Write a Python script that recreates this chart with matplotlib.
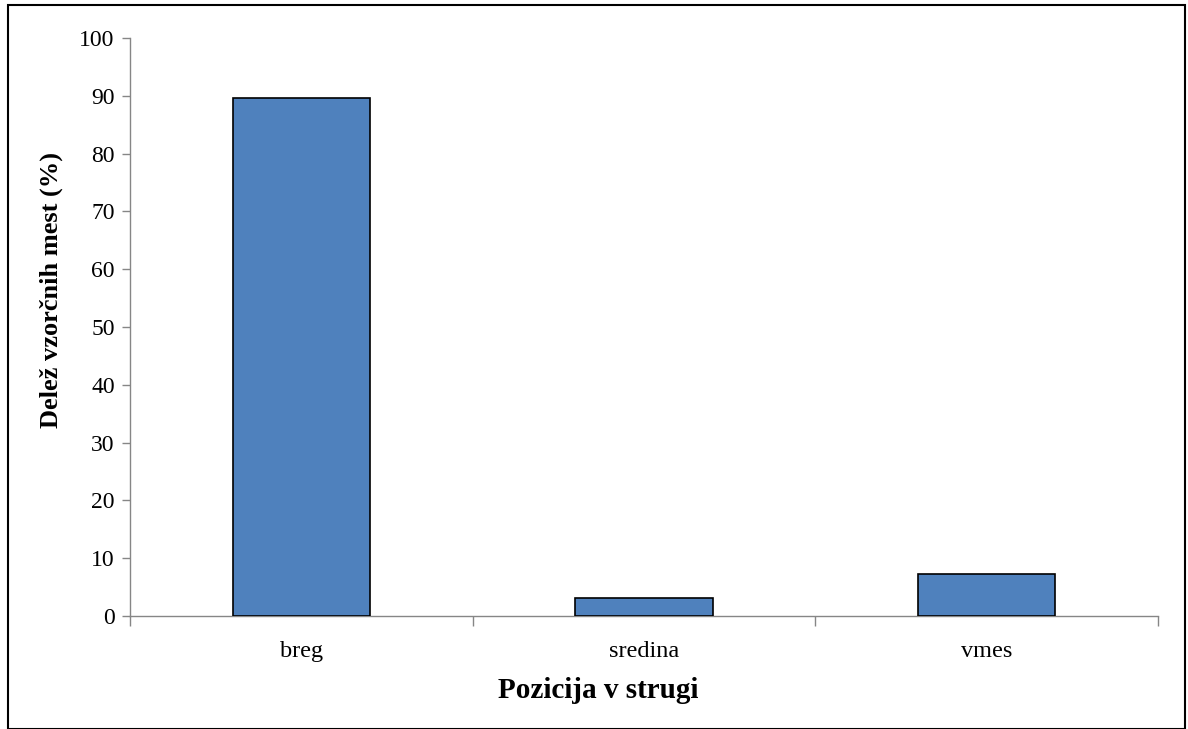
import matplotlib
matplotlib.use("Agg")
import matplotlib.pyplot as plt
from matplotlib.patches import Rectangle

categories = ["breg", "sredina", "vmes"]
values = [89.7, 3.1, 7.2]
yticks = [0, 10, 20, 30, 40, 50, 60, 70, 80, 90, 100]
xlabel = "Pozicija v strugi"
ylabel = "Delež vzorčnih mest (%)"

plt.rcParams['font.family'] = ['Liberation Serif', 'DejaVu Serif']

W, H = 1188, 729
AX_L, AX_R, AX_T, AX_B = 130, 1158, 38, 616
fig = plt.figure(figsize=(W/100, H/100), dpi=100)
ax = fig.add_axes([AX_L/W, 1-AX_B/H, (AX_R-AX_L)/W, (AX_B-AX_T)/H])
aw, ah = AX_R-AX_L, AX_B-AX_T

x = list(range(len(categories)))
ax.bar(x, values, width=0.4, color="#4F81BD", edgecolor="black", linewidth=1.2, zorder=3)
ax.set_xlim(-0.5, len(categories)-0.5)
ax.set_ylim(0, 100)
ax.set_yticks(yticks)
ax.set_yticklabels([str(v) for v in yticks], fontsize=17)
ax.set_xticks(x)
ax.set_xticklabels(categories, fontsize=17.5)
ax.set_xticks([i-0.5 for i in range(len(categories)+1)], minor=True)
ax.tick_params(axis='x', which='major', length=0, pad=18)
ax.tick_params(axis='x', which='minor', length=7, color='#868686', width=1)
ax.tick_params(axis='y', length=6, color='#868686', width=1, pad=5)
for s in ['top', 'right']:
    ax.spines[s].set_visible(False)
for s in ['left', 'bottom']:
    ax.spines[s].set_color('#868686')
    ax.spines[s].set_linewidth(1)
ax.set_xlabel(xlabel, fontsize=21, fontweight='bold')
ax.set_ylabel(ylabel, fontsize=19, fontweight='bold')
ax.xaxis.label.set_va('center')
ax.yaxis.label.set_va('center')
ax.xaxis.set_label_coords((598-AX_L)/aw, -(691-AX_B)/ah)
ax.yaxis.set_label_coords((51-AX_L)/aw, (AX_B-290)/ah)

fig.patches.append(Rectangle((8/W, 0), (1185-8)/W, 1-5/H, transform=fig.transFigure,
                             fill=False, edgecolor='black', linewidth=1.5))

fig.savefig("out.png", dpi=100)
